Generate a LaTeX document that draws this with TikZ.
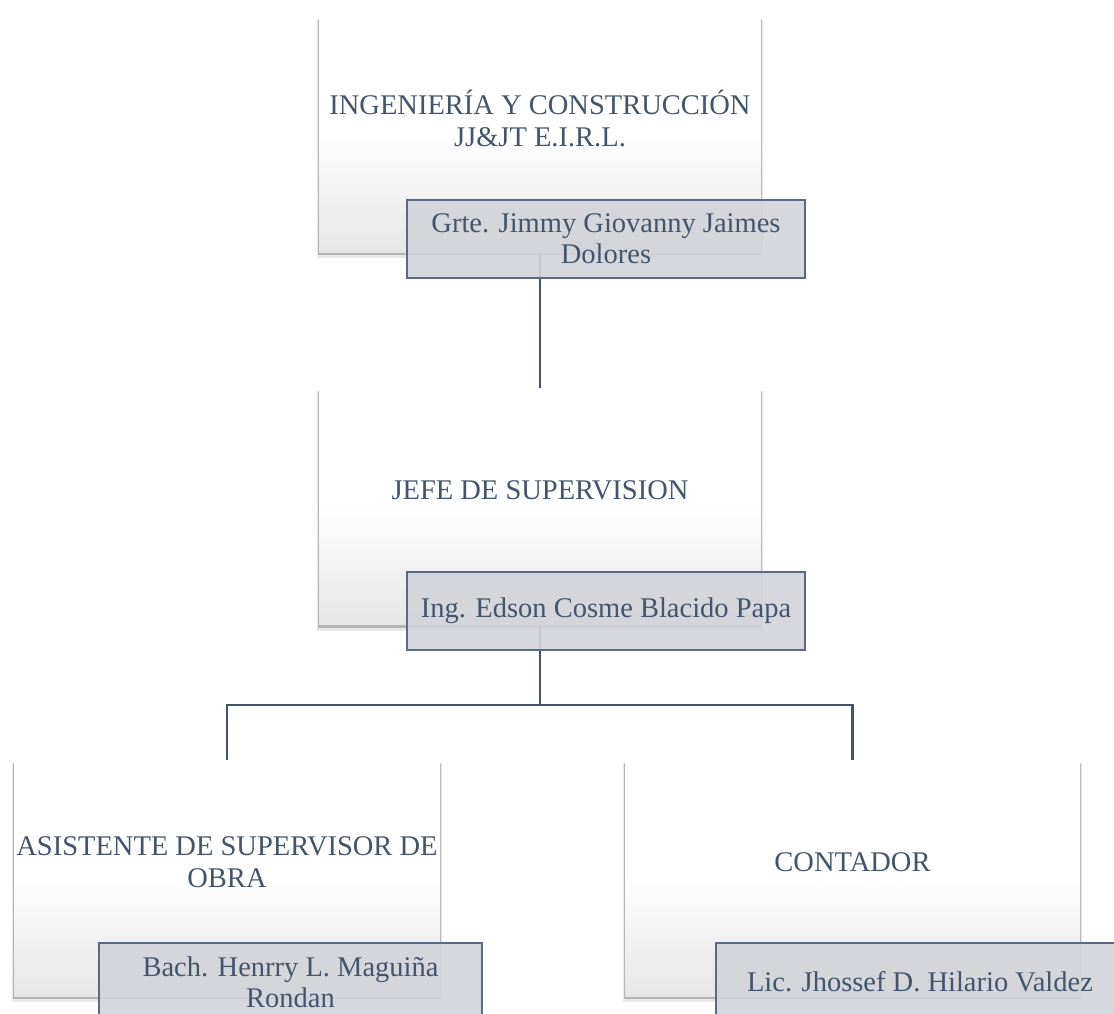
\documentclass[tikz,border=0pt]{standalone}
\usepackage{fontspec}
\setmainfont{Liberation Serif}
\usepackage{tikz}
\usetikzlibrary{shadows, backgrounds}
\usepackage{xcolor}
\definecolor{slatetext}{HTML}{44546A}
\definecolor{labelgray}{HTML}{D2D4D9}
\definecolor{labelline}{HTML}{5B6A82}
\definecolor{boxbottom}{HTML}{E6E6E7}

\begin{document}
\begin{tikzpicture}[
    x=1pt, y=-1pt,
    cargo/.style={rectangle, minimum width=442pt, minimum height=236pt, inner sep=0pt,
        top color=white, bottom color=boxbottom, middle color=white,
        drop shadow={shadow xshift=0pt, shadow yshift=-3pt, shadow scale=1.004, opacity=.40, fill=black!60},
        drop shadow={shadow xshift=0pt, shadow yshift=-5pt, shadow scale=1.01, opacity=.15, fill=black!60}},
    titulo/.style={text=slatetext, font=\fontsize{28.5}{32}\selectfont, align=center, yshift=16pt},
    nombre/.style={rectangle, draw=labelline, line width=1.3pt, fill=labelgray, fill opacity=.9, text opacity=1,
        minimum width=398pt, minimum height=78pt, inner sep=0pt, text=slatetext,
        font=\fontsize{28.5}{31}\selectfont, align=center},
    linea/.style={draw=slatetext, line width=2.4pt}
]
    \useasboundingbox (0,0) rectangle (1114,1014);

    % Boxes
    \node[cargo, label={[titulo]center:INGENIERÍA Y CONSTRUCCIÓN\\JJ\&JT E.I.R.L.}] (empresa) at (540,134) {};
    \node[cargo, label={[titulo]center:JEFE DE SUPERVISION}] (jefe) at (540,506.5) {};
    \node[cargo, minimum width=426pt, label={[titulo]center:ASISTENTE DE SUPERVISOR DE\\OBRA}] (asistente) at (227,878) {};
    \node[cargo, minimum width=455pt, label={[titulo]center:CONTADOR}] (contador) at (852.5,878) {};

    % Names
    \node[nombre] (gerente) at (606,239) {Grte. Jimmy Giovanny Jaimes\\Dolores};
    \node[nombre] (ingeniero) at (606,611) {Ing. Edson Cosme Blacido Papa};
    \node[nombre, minimum width=383pt] (bachiller) at (290.5,982) {Bach. Henrry L. Maguiña\\Rondan};
    \node[nombre, minimum width=408pt] (licenciado) at (920,982) {Lic. Jhossef D. Hilario Valdez};

    % Lines
    \coordinate (rama) at (540,705);
    \begin{scope}[on background layer]
        \draw[linea] (empresa.south) -- (jefe.north);
        \draw[linea] (jefe.south) -- (rama);
        \draw[linea] (asistente.north) |- (rama) -| (contador.north);
    \end{scope}

\end{tikzpicture}
\end{document}
